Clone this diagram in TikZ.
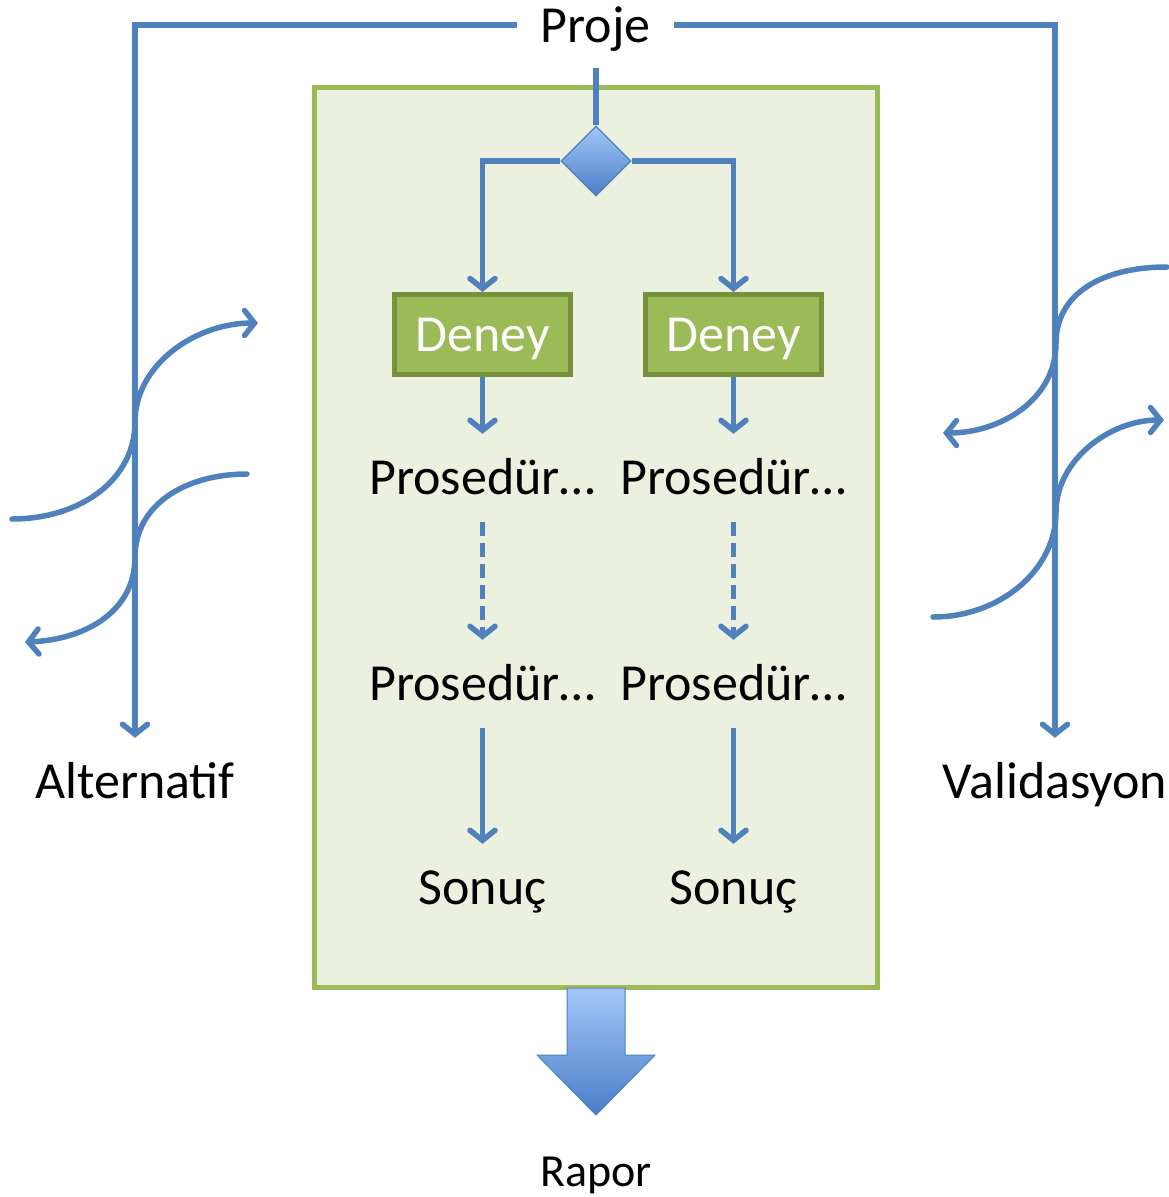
\documentclass[tikz,border=0pt]{standalone}
\usepackage{fontspec}
\setmainfont{Carlito}
\usetikzlibrary{arrows.meta,shapes.geometric,calc}
\definecolor{ln}{HTML}{4F81BD}
\definecolor{boxfill}{HTML}{EBF1DE}
\definecolor{boxline}{HTML}{9BBB59}
\definecolor{dgreen}{HTML}{9BBB59}
\definecolor{dgreenline}{HTML}{76923C}
\definecolor{btop}{HTML}{A3C6F8}
\definecolor{bbot}{HTML}{4A7EC8}
\begin{document}
\begin{tikzpicture}[x=1pt,y=-1pt,
  conn/.style={draw=ln, line width=5.5pt},
  arr/.style={conn, -{Straight Barb[length=10pt,width=25pt,line cap=round]}},
  dasharr/.style={arr, dash pattern=on 14pt off 7pt},
  lbl/.style={font=\fontsize{52}{60}\selectfont, inner xsep=0pt, inner ysep=22pt,
    text height=38pt, text depth=6pt, anchor=base},
  deneybox/.style={draw=dgreenline, line width=5pt, fill=dgreen, text=white,
    minimum width=176pt, minimum height=80pt, inner sep=0pt,
    text height=34pt, text depth=0pt,
    font=\fontsize{52}{60}\selectfont},
  container/.style={draw=boxline, line width=5pt, fill=boxfill,
    minimum width=563pt, minimum height=900pt, inner sep=0pt},
  decision/.style={diamond, aspect=1, minimum width=70pt, minimum height=70pt,
    inner sep=0pt, draw=ln, line width=1.2pt, top color=btop, bottom color=bbot},
  curvy/.style={draw=ln, line width=5.5pt, line cap=round},
  curvyarr/.style={curvy, -{Straight Barb[length=10pt,width=25pt,line cap=round]}}
]
\useasboundingbox (0,0) rectangle (1169,1197);

% container
\node[container] (box) at (596,537.5) {};

% top label and lines
\node[lbl] (proje) at (595.5,42) {Proje};
\coordinate (pl) at (517,25);
\coordinate (pr) at (674,25);
\coordinate (pb) at (596,68);

\node[lbl] (alt) at (135,798) {Alternatif};
\node[lbl] (val) at (1055,798) {Validasyon};

\draw[arr] (pl) -| (alt.north);
\draw[arr] (pr) -| (val.north);

% decision
\node[decision] (dia) at (596,161) {};
\draw[conn] (pb) -- (dia.north);

% experiments
\node[deneybox] (d1) at (482.5,334.5) {Deney};
\node[deneybox] (d2) at (733.5,334.5) {Deney};
\draw[arr] (dia.west) -| (d1.north);
\draw[arr] (dia.east) -| (d2.north);

\node[lbl] (p1) at (482.5,494) {Prosedür…};
\node[lbl] (p2) at (733.5,494) {Prosedür…};
\node[lbl] (q1) at (482.5,700) {Prosedür…};
\node[lbl] (q2) at (733.5,700) {Prosedür…};
\node[lbl] (s1) at (482.5,904) {Sonuç};
\node[lbl] (s2) at (733.5,904) {Sonuç};

\draw[arr] (d1.south) -- (p1.north);
\draw[arr] (d2.south) -- (p2.north);
\draw[dasharr] (p1.south) -- (q1.north);
\draw[dasharr] (p2.south) -- (q2.north);
\draw[arr] (q1.south) -- (s1.north);
\draw[arr] (q2.south) -- (s2.north);

% report block arrow
\path[draw=ln, line width=1pt, top color=btop, bottom color=bbot]
  (567,988) -- (625,988) -- (625,1055) -- (655,1055) -- (596,1115)
  -- (537,1055) -- (567,1055) -- cycle;
\node[font=\fontsize{46}{54}\selectfont, inner sep=0pt, anchor=base] (rapor) at (596,1186) {Rapor};

% left crossing curves
\draw[curvyarr]
  (12,519) .. controls (80,519) and (135,480) .. (135,422)
  .. controls (135,365) and (195,323) .. (258,323);
\draw[curvyarr]
  (247,474) .. controls (185,474) and (135,505) .. (135,557)
  .. controls (135,615) and (80,640) .. (25,642);

% right crossing curves
\draw[curvyarr]
  (1167,267) .. controls (1100,267) and (1056,295) .. (1056,343)
  .. controls (1056,400) and (1000,433) .. (943,433);
\draw[curvyarr]
  (933,617) .. controls (1000,617) and (1056,570) .. (1056,512)
  .. controls (1056,460) and (1110,420) .. (1164,420);
\end{tikzpicture}
\end{document}
